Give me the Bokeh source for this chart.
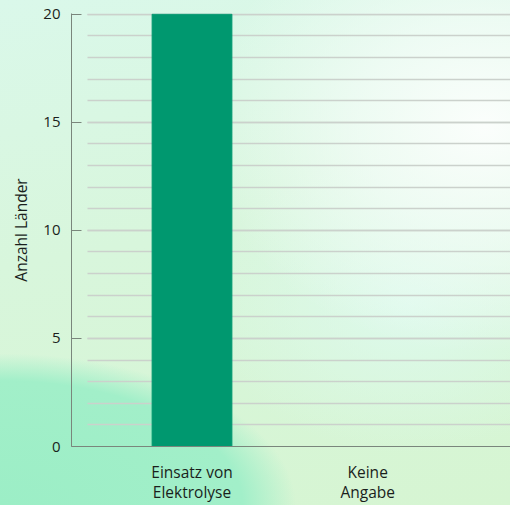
from bokeh.plotting import figure
from bokeh.models import Range1d, FixedTicker, SingleIntervalTicker, InlineStyleSheet
from bokeh.embed import file_html
from bokeh.resources import INLINE

categories = ["Einsatz von\nElektrolyse", "Keine\nAngabe"]
values = [20, 0]

xs = list(range(len(categories)))

css = InlineStyleSheet(css="""
:host {
  background:
    radial-gradient(ellipse 58% 30% at 0% 100%, #9ceec6 0%, #a2efc9 82%, rgba(170,240,205,0) 100%),
    radial-gradient(ellipse 55% 45% at 95% 25%, #fbfefc 0%, rgba(246,253,250,0.7) 45%, rgba(246,253,250,0) 100%),
    radial-gradient(ellipse 40% 30% at 80% 60%, rgba(222,250,238,0.9) 0%, rgba(222,250,238,0) 100%),
    linear-gradient(170deg, #daf8ea 0%, #d8f6dc 45%, #d6f5d2 100%);
}
""")

p = figure(width=510, height=505, output_backend="svg", toolbar_location=None,
           x_range=Range1d(-0.686, 1.813), y_range=Range1d(0, 20.03),
           min_border_left=71, min_border_right=0, min_border_top=13, min_border_bottom=47,
           stylesheets=[css])
p.border_fill_color = None
p.background_fill_color = None
p.outline_line_color = None

p.vbar(x=xs, top=values, width=0.454, fill_color="#00986f", line_color="#00986f")

yt = SingleIntervalTicker(interval=5, num_minor_ticks=5)
p.yaxis.ticker = yt
p.yaxis.axis_label = "Anzahl Länder"
p.yaxis.axis_label_text_font = "Open Sans"
p.yaxis.axis_label_text_font_size = "15.5px"
p.yaxis.axis_label_text_font_style = "normal"
p.yaxis.axis_label_text_color = "#1a1f1c"
p.yaxis.axis_label_standoff = 8
p.yaxis.major_label_text_font = "Open Sans"
p.yaxis.major_label_text_font_size = "15px"
p.yaxis.major_label_text_color = "#1a1f1c"
p.yaxis.major_label_standoff = 7
p.yaxis.major_tick_in = 10
p.yaxis.major_tick_out = 0
p.yaxis.major_tick_line_color = "#7a867c"
p.yaxis.minor_tick_line_color = None
p.yaxis.axis_line_color = "#7a867c"

p.xaxis.ticker = FixedTicker(ticks=xs)
p.xaxis.major_label_overrides = {i: c for i, c in zip(xs, categories)}
p.xaxis.major_label_text_font = "Open Sans"
p.xaxis.major_label_text_font_size = "15.5px"
p.xaxis.major_label_text_line_height = 0.92
p.xaxis.major_label_text_color = "#1a1f1c"
p.xaxis.major_label_standoff = 8
p.xaxis.major_tick_line_color = None
p.xaxis.minor_tick_line_color = None
p.xaxis.axis_line_color = "#7a867c"

p.xgrid.visible = False
p.ygrid.ticker = yt
p.ygrid.grid_line_color = "#cbd1cc"
p.ygrid.grid_line_width = 1.3
p.ygrid.minor_grid_line_color = "#cbd1cc"
p.ygrid.minor_grid_line_width = 1.3
p.ygrid.cross_bounds = (-0.597, 1.813)

open("out.html", "w").write(file_html(p, INLINE))
